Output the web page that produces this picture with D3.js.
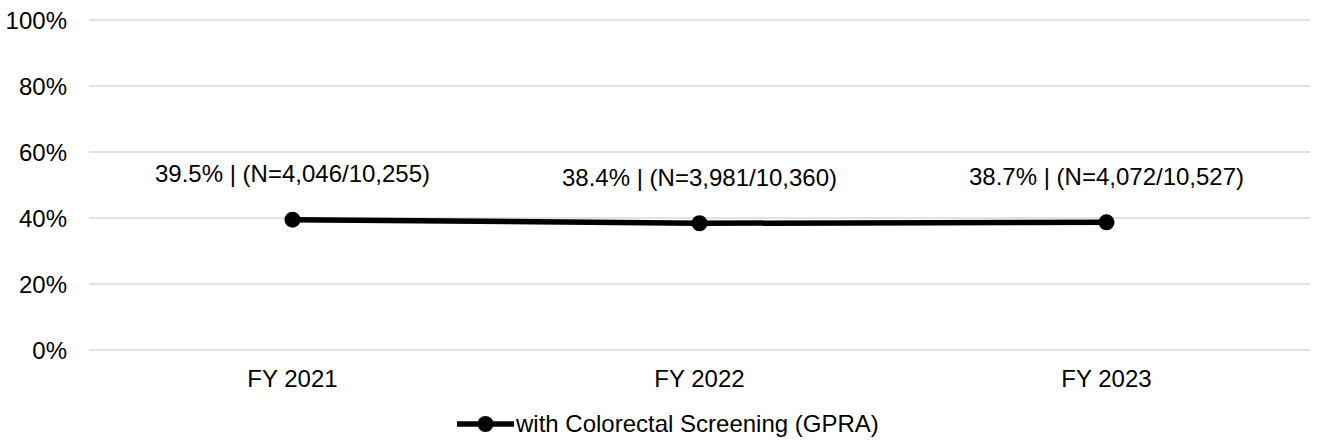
<!DOCTYPE html>
<html><head><meta charset="utf-8">
<script src="https://cdn.jsdelivr.net/npm/d3@7"></script>
<style>body{margin:0;background:#fff}svg{display:block}text{font-family:"Liberation Sans",Arial,sans-serif;fill:#000}</style>
</head><body><svg id="c" width="1325" height="444"></svg>
<script>
const categories = ["FY 2021","FY 2022","FY 2023"];
const values = [0.395,0.384,0.387];
const labels = ["39.5% | (N=4,046/10,255)","38.4% | (N=3,981/10,360)","38.7% | (N=4,072/10,527)"];
const yTicks = [0,0.2,0.4,0.6,0.8,1.0];
const seriesName = "with Colorectal Screening (GPRA)";

const svg = d3.select("#c");
const x = d3.scaleBand().domain(categories).range([89,1310]);
const y = d3.scaleLinear().domain([0,1]).range([350,20]);

svg.append("g").selectAll("line").data(yTicks).join("line")
  .attr("x1",89).attr("x2",1310).attr("y1",d=>y(d)).attr("y2",d=>y(d))
  .attr("stroke","#d9d9d9").attr("stroke-width",1.5);
svg.append("g").selectAll("text").data(yTicks).join("text")
  .attr("x",67).attr("y",d=>y(d)+9).attr("text-anchor","end").attr("font-size",24)
  .text(d=>d3.format(".0%")(d));
svg.append("g").selectAll("text").data(categories).join("text")
  .attr("x",d=>x(d)+x.bandwidth()/2).attr("y",387).attr("text-anchor","middle").attr("font-size",24)
  .text(d=>d);

const cx = (d,i)=>x(categories[i])+x.bandwidth()/2;
svg.append("path").datum(values)
  .attr("d",d3.line().x((d,i)=>cx(d,i)).y(d=>y(d)))
  .attr("fill","none").attr("stroke","#000").attr("stroke-width",5.5);
svg.append("g").selectAll("circle").data(values).join("circle")
  .attr("cx",cx).attr("cy",d=>y(d)).attr("r",8).attr("fill","#000");
svg.append("g").selectAll("text").data(values).join("text")
  .attr("x",cx).attr("y",(d)=>y(d)-37.5).attr("text-anchor","middle").attr("font-size",24)
  .text((d,i)=>labels[i]);

const lg = svg.append("g");
lg.append("line").attr("x1",457).attr("x2",514).attr("y1",424).attr("y2",424).attr("stroke","#000").attr("stroke-width",5.5);
lg.append("circle").attr("cx",485.5).attr("cy",424).attr("r",8).attr("fill","#000");
lg.append("text").attr("x",516).attr("y",432).attr("font-size",24).text(seriesName);
</script></body></html>
